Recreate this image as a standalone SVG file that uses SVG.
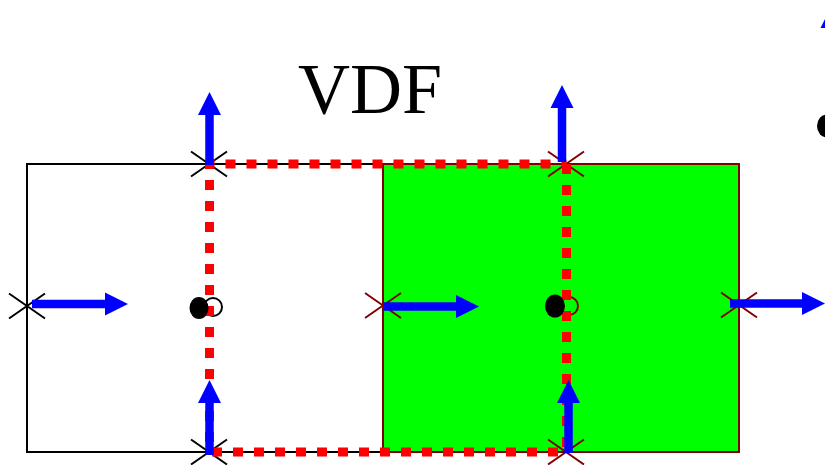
<svg xmlns="http://www.w3.org/2000/svg" width="825" height="465" viewBox="0 0 825 465">
<defs>
<marker id="ah" markerUnits="userSpaceOnUse" markerWidth="24" markerHeight="24" refX="0" refY="11.5" orient="auto" overflow="visible">
<path d="M0,0 L23,11.5 L0,23 Z" fill="#0000ff"/>
</marker>
<style>
.blk{stroke:#000;stroke-width:2;fill:none}
.brn{stroke:#800000;stroke-width:2;fill:none}
.red{stroke:#ff0000;stroke-width:9;stroke-dasharray:10 11;fill:none}
.arr{stroke:#0000ff;stroke-width:8.5;fill:none;marker-end:url(#ah)}
.dot{fill:#000}
</style>
</defs>
<rect width="825" height="465" fill="#fff"/>
<text x="370" y="113" font-family="Liberation Serif, serif" font-size="72" text-anchor="middle">VDF</text>
<g id="cellLeft"><rect x="27" y="164" width="356" height="288" class="blk"/></g>
<g id="cellRight"><rect x="383" y="164" width="356" height="288" fill="#00ff00" stroke="#800000" stroke-width="2"/></g>
<g id="crosses">
<path class="blk" d="M9,293.5 L45,318.5 M9,318.5 L45,293.5"/>
<path class="blk" d="M191,151.5 L227,176.5 M191,176.5 L227,151.5"/>
<path class="blk" d="M191,439.5 L227,464.5 M191,464.5 L227,439.5"/>
<path class="brn" d="M365,293 L401,318 M365,318 L401,293"/>
<path class="brn" d="M548,151.5 L584,176.5 M548,176.5 L584,151.5"/>
<path class="brn" d="M548,439.5 L584,464.5 M548,464.5 L584,439.5"/>
<path class="brn" d="M721,292.5 L757,317.5 M721,317.5 L757,292.5"/>
</g>
<g id="openCircles">
<circle cx="213" cy="307" r="9" class="blk"/>
<circle cx="569" cy="306" r="9" class="brn"/>
</g>
<g id="dottedBox">
<line x1="209.5" y1="164" x2="566.5" y2="164" class="red" stroke-dashoffset="5"/>
<line x1="209.5" y1="164" x2="209.5" y2="452" class="red" stroke-dashoffset="5"/>
<line x1="209.5" y1="452" x2="566.5" y2="452" class="red" stroke-dashoffset="18.5"/>
<line x1="566.5" y1="164" x2="566.5" y2="452" class="red" stroke-dashoffset="0"/>
</g>
<g id="dots">
<ellipse cx="199" cy="308" rx="9.5" ry="11" class="dot"/>
<ellipse cx="555" cy="306" rx="10" ry="11.5" class="dot"/>
<ellipse cx="827" cy="126" rx="10" ry="11.5" class="dot"/>
</g>
<g id="connectors">
<line x1="32" y1="304" x2="105" y2="304" class="arr"/>
<line x1="383" y1="306.5" x2="456" y2="306.5" class="arr"/>
<line x1="730" y1="303.5" x2="802" y2="303.5" class="arr"/>
<line x1="209.5" y1="165" x2="209.5" y2="115" class="arr"/>
<line x1="562" y1="162" x2="562" y2="108" class="arr"/>
<line x1="209.5" y1="455" x2="209.5" y2="403" class="arr"/>
<line x1="568.5" y1="453" x2="568.5" y2="403" class="arr"/>
<line x1="832" y1="130" x2="832" y2="28" class="arr"/>
</g>
</svg>
